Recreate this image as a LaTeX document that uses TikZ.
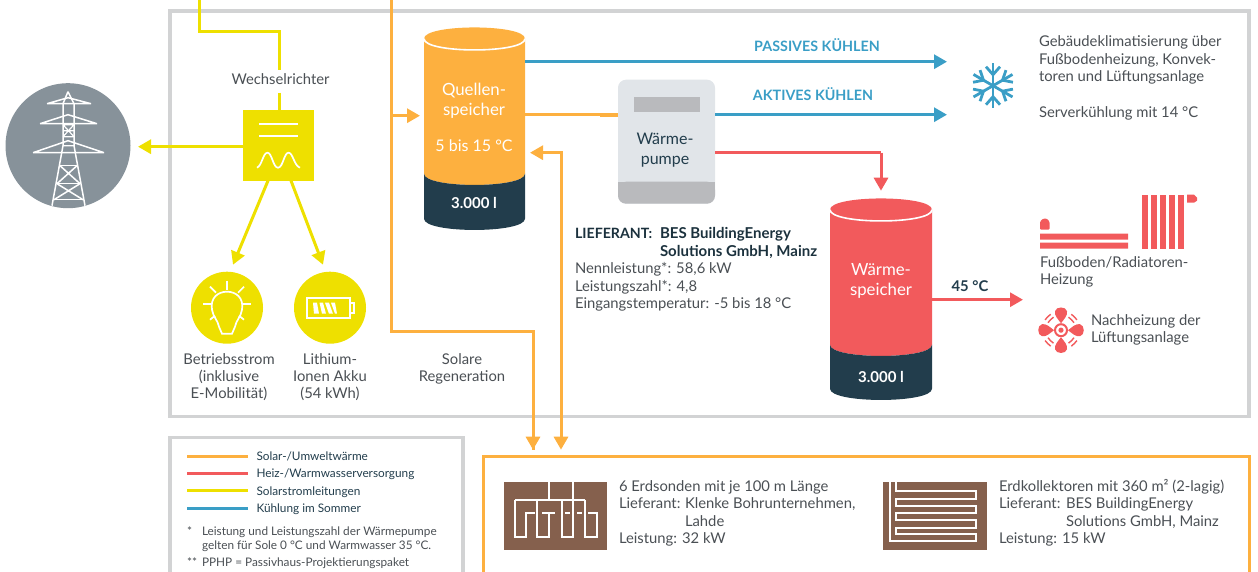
\documentclass[tikz,border=0pt]{standalone}
\usepackage{fontspec}
\setmainfont{Lato}
\usetikzlibrary{arrows.meta}
\definecolor{cframe}{HTML}{D2D3D4}
\definecolor{cyel}{HTML}{EEE000}
\definecolor{corg}{HTML}{FDB03F}
\definecolor{cred}{HTML}{F25A5C}
\definecolor{cblu}{HTML}{3A9EC6}
\definecolor{cdark}{HTML}{223D4C}
\definecolor{cgrid}{HTML}{87929A}
\definecolor{cbrown}{HTML}{85604D}
\definecolor{ctext}{HTML}{4A4F54}
\definecolor{cpump}{HTML}{E1E5E9}
\definecolor{cpgray}{HTML}{B9BABD}
\tikzset{
  pipe/.style={line width=3pt},
  arr/.style={pipe,-{Triangle[length=13pt,width=14pt]}},
  darr/.style={pipe,{Triangle[length=13pt,width=14pt]}-{Triangle[length=13pt,width=14pt]}},
  txt/.style={inner sep=0pt,outer sep=0pt,text=ctext,font=\fontsize{14.8}{17}\selectfont,anchor=base west},
  btxt/.style={txt,font=\bfseries\fontsize{15}{17}\selectfont,text=cdark!80!black},
  ctr/.style={txt,anchor=base,align=center},
  leg/.style={txt,font=\fontsize{11.8}{13}\selectfont},
  wht/.style={ctr,text=white,font=\fontsize{16.8}{20}\selectfont},
  icon/.style={draw=white,line width=1.7pt,fill=none,line join=miter},
}
\newcommand{\cyl}[6]{% x0,x1,ytop,ydark,ybot,colour
  \fill[#6] ({#1},{#3}) .. controls ({#1},{#3-15}) and ({#2},{#3-15}) .. ({#2},{#3})
    -- ({#2},{#4}) .. controls ({#2},{#4+15}) and ({#1},{#4+15}) .. ({#1},{#4}) -- cycle;
  \fill[cdark] ({#1},{#4}) .. controls ({#1},{#4+15}) and ({#2},{#4+15}) .. ({#2},{#4})
    -- ({#2},{#5}) .. controls ({#2},{#5+15}) and ({#1},{#5+15}) .. ({#1},{#5}) -- cycle;
  \draw[white,line width=1.6pt] ({#1},{#3}) .. controls ({#1},{#3+15}) and ({#2},{#3+15}) .. ({#2},{#3});
}
\begin{document}
\begin{tikzpicture}[x=1pt,y=-1pt]
\useasboundingbox (0,-0.7) rectangle (1258,571.3);
\clip (0,-0.7) rectangle (1258,571.3);
% frames
\draw[cframe,line width=3.5pt] (170,10.3) rectangle (1249,416);
\draw[cframe,line width=3.5pt] (170,437) rectangle (463,600);
\draw[corg,line width=3pt] (483,456) rectangle (1249,600);

% named places
\node[fill=cyel,minimum width=71pt,minimum height=71pt,inner sep=0pt,outer sep=0pt] (inv) at (278.5,144.5) {};
\node[fill=cgrid,circle,minimum size=125pt,inner sep=0pt] (grid) at (68,145) {};
\node[fill=cyel,circle,minimum size=72pt,inner sep=0pt] (bulb) at (227,307) {};
\node[fill=cyel,circle,minimum size=72pt,inner sep=0pt] (batt) at (330,307) {};
\coordinate (y0) at (199,-3); \coordinate (y1) at (199,31); \coordinate (y2) at (279,31); \coordinate (y3) at (279,69); \coordinate (y4) at (279,92);
\coordinate (gridin) at (138,146);
\coordinate (bulbin) at (233,264); \coordinate (battin) at (323,264);
\coordinate (o0) at (391,-3); \coordinate (o1) at (391,115); \coordinate (o2) at (391,331); \coordinate (o3) at (533,331); \coordinate (geo1) at (533,449);
\coordinate (qin) at (420,115);
\coordinate (geo2) at (561,449); \coordinate (o4) at (561,152); \coordinate (qin2) at (530,152);
\coordinate (qout1) at (525,61); \coordinate (cool1) at (947,61);
\coordinate (qout2) at (525,114); \coordinate (cool2) at (947,114);
\coordinate (r1) at (881,152); \coordinate (win) at (881,190);
\coordinate (wout) at (932,299); \coordinate (heat) at (1023,299);

% yellow
\draw[pipe,cyel] (y0) -- (y1) -- (y2) -- (y3);
\draw[pipe,cyel] (y4) -- (y4 |- inv.north);
\draw[arr,cyel] (inv.west |- gridin) -- (gridin);
\draw[arr,cyel] (268,180) -- (bulbin);
\draw[arr,cyel] (291,180) -- (battin);
% orange
\draw[pipe,corg] (o0) -- (o2) -- (o3) -- (geo1);
\draw[arr,corg] (geo1) ++(0,-10) -- (geo1);
\draw[arr,corg] (o1) -- (qin);
\draw[darr,corg] (geo2) -- (o4) -- (qin2);

% tanks
\cyl{424}{525}{38}{173}{218}{corg}
\cyl{830}{932}{209}{344}{388}{cred}
\node[inner sep=0pt] (tankQ) at (474.5,128) {};
\node[inner sep=0pt] (tankW) at (881,298) {};

% heat pump
\fill[cpump,rounded corners=8pt] (618,79) rectangle (715,203);
\fill[cpgray,rounded corners=8pt] (618,181) -- (618,203) -- (715,203) -- (715,181) -- cycle;
\fill[cpgray] (618,181) rectangle (715,190);
\fill[cpgray] (634,96) rectangle (700,111);
\node[inner sep=0pt,minimum width=97pt,minimum height=124pt] (hp) at (666.5,141) {};

% pump connectors
\draw[arr,cblu] (qout1) -- (cool1);
\draw[pipe,corg] (qout2) -- (hp.west |- qout2);
\draw[corg,line width=4pt] (600,114) -- (hp.west |- qout2);
\draw[arr,cblu] (hp.east |- cool2) -- (cool2);
\draw[pipe,cred] (hp.east |- r1) -- (r1);
\draw[arr,cred] (r1) -- (win);
\draw[arr,cred] (wout) -- (heat);

% tower
\begin{scope}[white,line width=1.5pt,line join=round]
\draw (47,103) -- (91,103) (47,103) -- (68,97) -- (91,103);
\draw (40,123) -- (97,123) (40,123) -- (68,114) -- (97,123);
\draw (33,152) -- (104,152) (33,152) -- (68,140) -- (104,152);
\draw (68,91) -- (63,103) -- (63,145) -- (52,205);
\draw (68,91) -- (74,103) -- (74,145) -- (85,205);
\draw[line width=1.2pt] (63,124) -- (74,124) (63,130) -- (74,130) (63,136) -- (74,136) (63,124) -- (74,136) (74,124) -- (63,136) (63,145) -- (74,145);
\draw (60,165) -- (77,165) (57,183) -- (80,183) (54,199) -- (83,199);
\draw (60,165) -- (80,183) (77,165) -- (57,183) (57,183) -- (83,199) (80,183) -- (54,199);
\end{scope}

% bulb
\begin{scope}[white,line width=1.7pt]
\draw (222,333) -- (219,326) .. controls (218,320) and (213,316) .. (212,309) .. controls (210,297) and (218,291) .. (227,291) .. controls (236,291) and (244,297) .. (242,309) .. controls (241,316) and (236,320) .. (235,326) -- (232,333) -- cycle;
\draw (227,280) -- (227,289) (203,303) -- (212,303) (242,303) -- (251,303);
\draw (210,286) -- (216,292) (244,286) -- (238,292);
\draw (210,319) -- (215,315) (244,319) -- (239,315);
\end{scope}
% battery
\draw[white,line width=1.7pt] (307,297) rectangle (350,317);
\draw[white,line width=1.7pt] (350,302) -- (354,302) -- (354,312) -- (350,312);
\fill[white] (313,302) -- (317,302) -- (319,313) -- (314,313) -- cycle
 (319.5,302) -- (323,302) -- (326,313) -- (322,313) -- cycle
 (325,302) -- (329,302) -- (333,313) -- (329,313) -- cycle
 (331,302) -- (335,302) -- (337,313) -- (335,313) -- cycle;
% inverter symbols
\draw[white,line width=1.7pt] (259,123) -- (298,123) (259,135) -- (298,135);
\draw[white,line width=1.7pt] (257,167) .. controls (262,165) and (263,152) .. (267.5,152) .. controls (272,152) and (273,167) .. (278,167) .. controls (283,167) and (284,152) .. (288.5,152) .. controls (293,152) and (294,165) .. (300,167);

% snowflake
\begin{scope}[shift={(993,85)},cblu,line width=2.8pt]
\foreach \a in {90,150,210,270,330,30}{
  \begin{scope}[rotate=\a]
    \draw (0,0) -- (22.5,0);
    \draw (19,-7) -- (11,0) -- (19,7);
  \end{scope}
}
\end{scope}

% radiators
\fill[cred] (1040,233) rectangle (1128,239) (1040,242) rectangle (1128,248);
\fill[cred,rounded corners=1pt] (1040,229) -- (1040,221) -- (1043,218) -- (1047,218) -- (1049.5,221) -- (1049.5,229) -- cycle;
\foreach \x in {1142,1151,1160,1169,1178}{\fill[cred] (\x,194) rectangle ++(6,54);}
\fill[cred] (1187,194) -- (1194,194) -- (1197,197) -- (1197,200) -- (1194,202) -- (1187,202) -- cycle;

% fan
\begin{scope}[shift={(1061,329.5)}]
\foreach \a in {0,90,180,270}{
  \begin{scope}[rotate=\a]
    \fill[cred] (0,-7) .. controls (-3,-11) and (-7,-15) .. (-6,-19) .. controls (-5,-24) and (5,-24) .. (6,-19) .. controls (7,-15) and (3,-11) .. (0,-7) -- cycle;
    \draw[cred,line width=1.4pt] ({15*cos(30)},{-15*sin(30)}) .. controls ({15*cos(40)},{-15*sin(40)}) and ({15*cos(50)},{-15*sin(50)}) .. ({15*cos(60)},{-15*sin(60)});
    \draw[cred,line width=1.4pt] ({19*cos(33)},{-19*sin(33)}) .. controls ({19*cos(40)},{-19*sin(40)}) and ({19*cos(50)},{-19*sin(50)}) .. ({19*cos(57)},{-19*sin(57)});
  \end{scope}
}
\draw[cred,line width=2pt] (0,0) circle (6);
\fill[cred] (0,0) circle (2.6);
\end{scope}

% brown icons
\fill[cbrown] (504,481) rectangle (607,549);
\draw[icon] (549,481) -- (549,499) (573,481) -- (573,499);
\draw[icon] (515,499) -- (585,499);
\draw[icon] (515,499) -- (515,536) -- (526,536) -- (526,512) -- (535,512);
\draw[icon] (537,499) -- (537,536) -- (549,536) -- (549,512);
\draw[icon] (542,512) -- (555,512);
\draw[icon] (562,499) -- (562,536) -- (573,536) -- (573,499);
\draw[icon] (565,512) -- (570,512) (577,512) -- (582,512);
\draw[icon] (585,499) -- (585,536) -- (597,536) -- (597,512) -- (588,512);
\fill[cbrown] (883,481) rectangle (987,549);
\draw[icon] (890,481) -- (890,540) -- (976,540) -- (976,533) -- (896,533) -- (896,527) -- (976,527) -- (976,519) -- (896,519) -- (896,512) -- (976,512) -- (976,505) -- (896,505) -- (896,498) -- (976,498) -- (976,490) -- (896,490) -- (896,481);

% legend
\coordinate (l1) at (187,456); \coordinate (l2) at (187,473); \coordinate (l3) at (187,490); \coordinate (l4) at (187,507.5);
\coordinate (e1) at (248,456); \coordinate (e2) at (248,473); \coordinate (e3) at (248,490); \coordinate (e4) at (248,507.5);
\draw[pipe,corg] (l1) -- (e1);
\draw[pipe,cred] (l2) -- (e2);
\draw[pipe,cyel] (l3) -- (e3);
\draw[pipe,cblu] (l4) -- (e4);
\node[leg,text=cdark] (tl1) at (256.5,460) {Solar-/Umweltwärme};
\node[leg,text=cdark] (tl2) at (256.5,477) {Heiz-/Warmwasserversorgung};
\node[leg,text=cdark] (tl3) at (256.5,495) {Solarstromleitungen};
\node[leg,text=cdark] (tl4) at (256.5,512) {Kühlung im Sommer};
\node[leg] (n1) at (187,535) {*};
\node[leg] (n2) at (202,535) {Leistung und Leistungszahl der Wärmepumpe};
\node[leg] (n3) at (202,549) {gelten für Sole 0 °C und Warmwasser 35 °C.};
\node[leg] (n4) at (187,566) {**};
\node[leg] (n5) at (202,566) {PPHP = Passivhaus-Projektierungspaket};

% texts
\node[ctr] (twr) at (280.5,84) {Wechselrichter};
\node[ctr] (tbe) at (229,398) {Betriebsstrom\\(inklusive\\E-Mobilität)};
\node[ctr] (tli) at (330,398) {Lithium-\\Ionen Akku\\(54 kWh)};
\node[ctr] (tso) at (462,381) {Solare\\Regeneration};
\node[wht] (tq) at (474,115) {Quellen-\\speicher};
\node[wht,font=\fontsize{16}{20}\selectfont] (tqt) at (474,151) {5 bis 15 °C};
\node[wht,font=\bfseries\fontsize{15}{17}\selectfont] (tq3) at (474,208) {3.000 l};
\node[ctr,text=cblu,font=\bfseries\fontsize{14.3}{17}\selectfont] (tp) at (817,51) {PASSIVES KÜHLEN};
\node[ctr,text=cblu,font=\bfseries\fontsize{14.3}{17}\selectfont] (ta) at (813,100) {AKTIVES KÜHLEN};
\node[ctr,text=cdark,font=\fontsize{16}{20}\selectfont] (th) at (665,164) {Wärme-\\pumpe};
\node[wht] (tw) at (881,295) {Wärme-\\speicher};
\node[wht,font=\bfseries\fontsize{15}{17}\selectfont] (tw3) at (881,382) {3.000 l};
\node[ctr,text=cdark,font=\bfseries\fontsize{14.8}{17}\selectfont] (t45) at (970,291) {45 °C};
\node[btxt,font=\bfseries\fontsize{14.2}{17}\selectfont] (s1) at (575,238) {LIEFERANT:};
\node[btxt] (s2) at (660,238) {BES BuildingEnergy};
\node[btxt] (s3) at (660,256) {Solutions GmbH, Mainz};
\node[txt] (s4) at (575,273) {Nennleistung*: 58,6 kW};
\node[txt] (s5) at (575,291) {Leistungszahl*: 4,8};
\node[txt] (s6) at (575,308) {Eingangstemperatur: -5 bis 18 °C};
\node[txt] (g1) at (1039,46) {Gebäudeklimatisierung über};
\node[txt] (g2) at (1039,64) {Fußbodenheizung, Konvek-};
\node[txt] (g3) at (1039,81) {toren und Lüftungsanlage};
\node[txt] (g4) at (1039,117) {Serverkühlung mit 14 °C};
\node[txt] (f1) at (1040,267) {Fußboden/Radiatoren-};
\node[txt] (f2) at (1040,284) {Heizung};
\node[txt] (h1) at (1091,325) {Nachheizung der};
\node[txt] (h2) at (1091,342) {Lüftungsanlage};
\node[txt] (e1a) at (619,491) {6 Erdsonden mit je 100 m Länge};
\node[txt] (e1b) at (619,508) {Lieferant:};
\node[txt] (e1c) at (685,508) {Klenke Bohrunternehmen,};
\node[txt] (e1d) at (685,526) {Lahde};
\node[txt] (e1e) at (619,543) {Leistung: 32 kW};
\node[txt] (e2a) at (999,491) {Erdkollektoren mit 360 m² (2-lagig)};
\node[txt] (e2b) at (999,508) {Lieferant:};
\node[txt] (e2c) at (1066,508) {BES BuildingEnergy};
\node[txt] (e2d) at (1066,526) {Solutions GmbH, Mainz};
\node[txt] (e2e) at (999,543) {Leistung: 15 kW};
\end{tikzpicture}
\end{document}
